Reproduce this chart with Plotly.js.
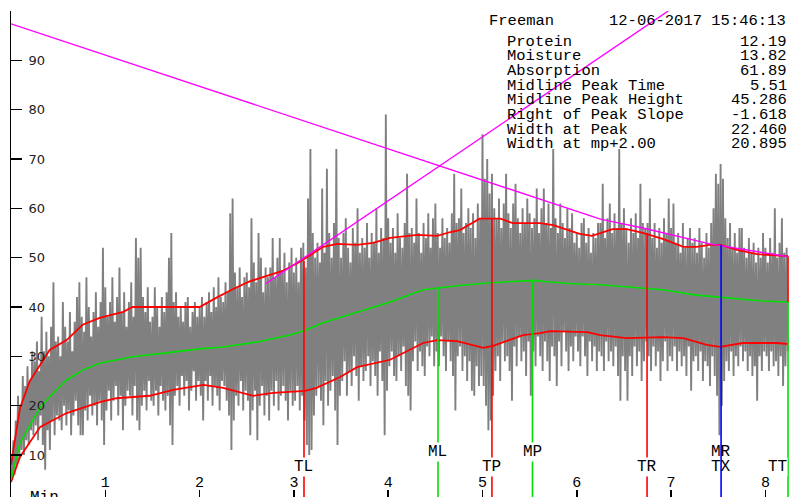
<!DOCTYPE html>
<html>
<head>
<meta charset="utf-8">
<script src="https://cdn.plot.ly/plotly-3.0.1.min.js"></script>
<style>html,body{margin:0;padding:0;background:#fff;}#chart{width:790px;height:497px;}</style>
</head>
<body>
<div id="chart"></div>
<script>
// ---- data ----
const DT = 0.025; // minutes per sample pair
const signalHighs = [
8,13,17,22,20,26,24,28,25,31,
29,33,27,38,31,35,30,36,45,33,
34,30,41,36,33,39,31,37,42,45,
38,35,46,40,34,39,43,36,41,52,
44,38,41,46,37,42,48,39,43,36,
41,45,38,54,50,52,42,39,44,37,
38,44,40,36,42,39,43,50,55,41,
43,38,40,37,41,42,36,39,41,38,
40,42,38,41,43,39,44,40,46,42,
41,45,43,59,62,47,44,48,42,46,
47,44,58,49,45,55,50,43,48,46,
48,54,46,50,54,47,51,45,49,52,
47,50,45,52,53,48,62,72,55,50,
53,49,64,51,68,55,50,57,72,54,
50,55,58,52,49,56,53,60,51,54,
52,57,50,55,53,60,51,56,54,79,
58,53,56,51,59,54,52,57,67,55,
56,53,62,55,51,57,54,59,52,58,
61,55,52,58,54,56,53,59,67,57,
58,64,55,57,60,56,59,54,61,58,
75,66,70,63,67,60,58,62,56,61,
67,59,56,61,65,58,55,60,57,62,
59,56,58,64,55,60,64,57,61,56,
72,58,55,61,57,54,60,56,59,53,
55,52,57,58,53,56,51,55,54,57,
57,65,54,58,61,55,59,56,72,57,
60,56,53,58,55,59,54,65,57,56,
57,62,54,57,52,56,53,58,55,62,
56,61,53,55,51,57,52,54,56,53,
54,51,56,53,50,55,52,57,60,67,
65,69,66,58,54,57,52,55,51,56,
56,52,50,54,51,53,49,52,50,55,
52,49,54,51,60,50,53,58,51,52
];
const signalLows = [
5,6,8,9,11,10,13,12,15,14,
16,13,18,12,7,15,11,17,14,18,
17,15,20,16,19,14,18,21,16,14,
14,19,17,22,18,20,16,21,17,12,
19,23,17,21,24,18,22,15,20,23,
22,18,24,17,15,20,23,19,25,21,
20,23,18,24,21,19,22,16,12,22,
24,20,26,22,25,19,23,27,21,25,
22,17,25,21,26,20,24,22,19,25,
24,21,18,11,17,22,20,25,19,23,
21,14,19,23,13,20,24,18,22,17,
23,20,25,19,22,24,21,17,23,20,
21,24,19,22,17,12,10,11,18,22,
24,21,16,25,20,23,26,19,12,22,
25,29,22,27,24,30,26,21,28,25,
27,30,24,29,26,22,31,25,14,23,
28,31,26,25,30,27,32,24,22,19,
29,33,27,31,28,26,32,30,34,28,
31,28,34,30,27,33,29,26,19,30,
32,27,30,25,29,23,22,28,24,26,
24,20,15,17,22,27,30,25,33,29,
30,27,21,32,28,34,29,31,26,33,
22,31,28,34,30,27,33,29,25,32,
30,24,33,28,35,31,27,32,29,34,
31,28,34,30,26,33,29,32,27,31,
30,27,33,29,31,28,32,26,21,30,
27,21,30,26,32,28,31,25,29,33,
30,27,32,28,31,25,29,33,27,30,
29,32,27,31,28,30,26,32,23,29,
30,27,31,25,29,28,24,30,26,22,
14,20,25,29,27,31,26,30,28,32,
29,31,27,30,26,28,21,30,27,31,
30,27,31,28,29,26,30,24,28,31
];

const upperT = [0,0.095,0.2,0.41,0.59,0.76,0.94,1.19,1.29,1.72,2.0,2.18,2.35,2.53,2.71,2.88,3.06,3.17,3.31,3.46,3.67,3.84,4.02,4.31,4.52,4.66,4.76,4.97,5.19,5.32,5.61,5.75,5.85,6.03,6.16,6.25,6.38,6.53,6.70,6.91,7.13,7.27,7.41,7.52,7.70,7.91,8.24];
const upperV = [8,19.5,25.0,31.3,33.3,36.4,37.8,39.0,40.0,40.0,40.0,41.9,43.6,45.2,46.2,47.3,49.1,50.5,52.2,52.8,52.6,53.0,54.0,54.6,54.4,55.2,55.6,57.9,57.9,57.0,57.0,56.6,56.0,54.8,54.4,55.0,55.8,55.8,55.0,53.8,52.2,52.2,52.6,52.6,51.6,50.7,50.3];

const midT = [0,0.095,0.31,0.41,0.59,0.76,0.94,1.29,1.65,2.0,2.25,2.61,2.96,3.12,3.31,3.67,4.02,4.37,4.53,4.73,5.08,5.43,5.55,5.68,5.96,6.25,6.53,6.91,7.27,7.49,7.76,7.97,8.24];
const midV = [5,12.4,19.7,21.8,25.2,27.2,28.6,29.9,30.7,31.5,31.9,32.9,34.3,35.3,36.8,39.0,41.0,43.5,43.9,44.3,44.9,45.3,45.4,45.1,44.7,44.5,44.1,43.5,42.4,42.0,41.6,41.2,41.0];

const lowerT = [0,0.095,0.31,0.59,0.94,1.12,1.47,1.72,2.04,2.25,2.57,2.78,3.12,3.24,3.49,3.67,4.02,4.37,4.52,4.73,5.01,5.11,5.43,5.61,5.72,6.11,6.25,6.53,6.91,7.13,7.38,7.52,7.76,8.12,8.24];
const lowerV = [4.5,9.6,15.7,18.5,20.7,21.5,22.0,23.2,24.2,23.6,22.0,22.6,23.0,23.6,25.8,27.8,29.3,32.7,33.3,33.1,31.7,32.1,34.3,34.7,35.1,34.9,34.3,33.7,33.9,33.7,32.3,31.9,32.7,32.7,32.5];

const slopeLineT = [0,6.25,6.70,7.41,8.24];
const slopeLineV = [97.4,57.8,56.0,52.8,50.2];
const riseLineT = [2.70,6.97];
const riseLineV = [44.7,100];

const markerNames = ["TL","ML","TP","MP","TR","MR","TT"];
const markerT     = [3.107,4.528,5.10,5.53,6.745,7.53,8.24];
const markerTop   = [49.3,43.9,57.9,45.4,55.0,52.6,50.3];
const markerColor = ["#ff0000","#00e000","#ff0000","#00e000","#ff0000","#0000ff","#ff0000"];
const ttMid = 41.0;

const xTickVals = [1,2,3,4,5,6,7,8];
const yTickVals = [10,20,30,40,50,60,70,80,90,100];
const yTickText = ["10","20","30","40","50","60","70","80","90",""];

const headerName = "Freeman";
const headerDate = "12-06-2017 15:46:13";
const statNames = ["Protein","Moisture","Absorption","Midline Peak Time","Midline Peak Height","Right of Peak Slope","Width at Peak","Width at mp+2.00"];
const statValues = ["12.19","13.82","61.89","5.51","45.286","-1.618","22.460","20.895"];

// ---- build ----
const sx = [], sy = [];
for (let i = 0; i < signalHighs.length; i++) {
  sx.push(i * DT); sy.push(signalHighs[i]);
  sx.push(i * DT + DT / 2); sy.push(signalLows[i]);
}
const traces = [];
traces.push({x: sx, y: sy, mode: 'lines', line: {color: '#808080', width: 1.9}, hoverinfo: 'skip'});
traces.push({x: upperT, y: upperV, mode: 'lines', line: {color: '#ff0000', width: 1.8}});
traces.push({x: lowerT, y: lowerV, mode: 'lines', line: {color: '#ff0000', width: 1.8}});
traces.push({x: midT, y: midV, mode: 'lines', line: {color: '#00e000', width: 1.6}});
traces.push({x: slopeLineT, y: slopeLineV, mode: 'lines', line: {color: '#ff00ff', width: 1.4}});
traces.push({x: riseLineT, y: riseLineV, mode: 'lines', line: {color: '#ff00ff', width: 1.4}});
for (let k = 0; k < markerNames.length; k++) {
  if (markerNames[k] === 'TT') {
    traces.push({x: [markerT[k], markerT[k]], y: [markerTop[k], ttMid], mode: 'lines', line: {color: '#ff0000', width: 1.6}});
    traces.push({x: [markerT[k], markerT[k]], y: [ttMid, 0], mode: 'lines', line: {color: '#00e000', width: 1.6}});
  } else {
    traces.push({x: [markerT[k], markerT[k]], y: [markerTop[k], 0], mode: 'lines', line: {color: markerColor[k], width: 1.6}});
  }
}

const L = 11, T = 11, W = 779, H = 486;
const px2x = p => (p - L) / W;
const py2y = p => (T + H - p) / H;
const monoFont = {family: 'Liberation Mono, Courier New, monospace', size: 16, color: '#000'};
const boxFont = {family: 'Liberation Mono, Courier New, monospace', size: 15.5, color: '#000'};

const ann = [];
ann.push({xref: 'paper', yref: 'paper', x: px2x(487), y: py2y(21), xanchor: 'left', yanchor: 'middle', text: headerName, showarrow: false, font: boxFont});
ann.push({xref: 'paper', yref: 'paper', x: px2x(788), y: py2y(21), xanchor: 'right', yanchor: 'middle', text: headerDate, showarrow: false, font: boxFont});
for (let k = 0; k < statNames.length; k++) {
  const yy = py2y(41.7 + k * 14.65);
  ann.push({xref: 'paper', yref: 'paper', x: px2x(506), y: yy, xanchor: 'left', yanchor: 'middle', text: statNames[k], showarrow: false, font: boxFont, borderpad: 0});
  ann.push({xref: 'paper', yref: 'paper', x: px2x(788), y: yy, xanchor: 'right', yanchor: 'middle', text: statValues[k], showarrow: false, font: boxFont, borderpad: 0});
}
const row1 = py2y(452), row2 = py2y(467);
function lab(t, yy, txt, bg, anchor) {
  ann.push({xref: 'x', yref: 'paper', x: t, y: yy, xanchor: anchor || 'center', yanchor: 'middle', text: txt, showarrow: false,
    font: monoFont, bgcolor: bg ? '#ffffff' : 'rgba(0,0,0,0)', borderpad: 0});
}
for (let k = 0; k < markerNames.length; k++) {
  const n = markerNames[k];
  if (n === 'ML' || n === 'MP') lab(markerT[k], row1, n, true);
  else if (n === 'MR') { lab(markerT[k], row1, 'MR', false); lab(markerT[k], row2, 'TX', false); }
  else if (n === 'TT') lab(markerT[k], row2, n, true, 'right');
  else lab(markerT[k], row2, n, true);
}
ann.push({xref: 'paper', yref: 'paper', x: px2x(28), y: py2y(487), xanchor: 'left', yanchor: 'top', text: 'Min', showarrow: false, font: monoFont});

const layout = {
  width: 790, height: 497,
  margin: {l: L, r: 0, t: T, b: 0, pad: 0},
  paper_bgcolor: '#fff', plot_bgcolor: '#fff',
  showlegend: false, hovermode: false,
  xaxis: {range: [0, W / 94.3], showgrid: false, zeroline: false, showline: false,
    ticks: 'inside', ticklen: 7, tickwidth: 1.5, tickcolor: '#000',
    tickvals: xTickVals, ticklabelposition: 'inside', ticklabeloverflow: 'allow',
    tickfont: {family: 'Liberation Mono, Courier New, monospace', size: 15, color: '#000'}},
  yaxis: {range: [100 - H / 4.933, 100], showgrid: false, zeroline: false, showline: true,
    linecolor: '#000', linewidth: 1.5, mirror: false,
    ticks: 'inside', ticklen: 11, tickwidth: 1.5, tickcolor: '#000',
    tickvals: yTickVals, ticktext: yTickText, ticklabelposition: 'inside', ticklabeloverflow: 'allow',
    ticklabelstandoff: 6,
    tickfont: {family: 'DejaVu Sans, Verdana, sans-serif', size: 13, color: '#222'}},
  annotations: ann
};
Plotly.newPlot('chart', traces, layout, {displayModeBar: false, staticPlot: true});
</script>
</body>
</html>
